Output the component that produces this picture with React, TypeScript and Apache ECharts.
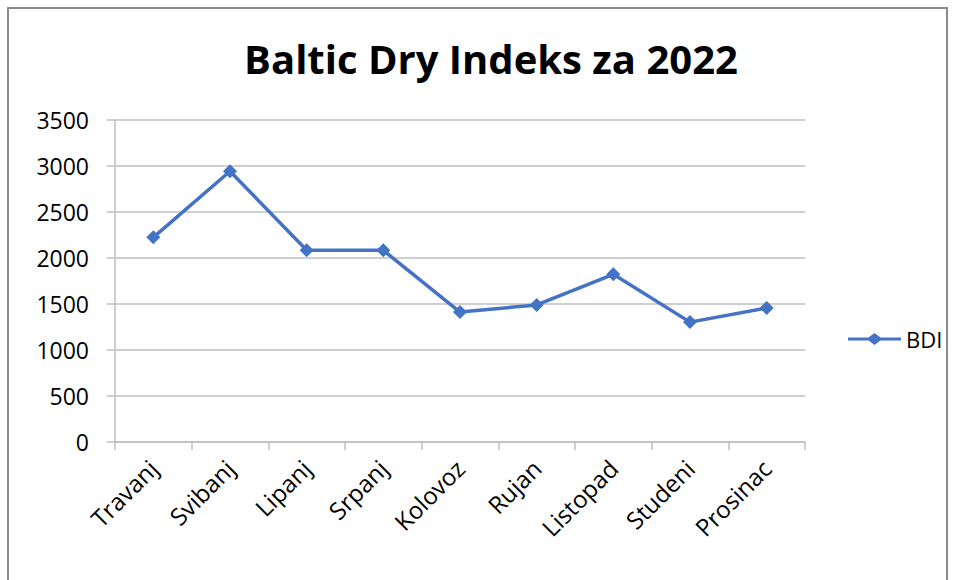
import React, { useEffect, useRef } from "react";
import * as echarts from "echarts";

const categories = ["Travanj", "Svibanj", "Lipanj", "Srpanj", "Kolovoz", "Rujan", "Listopad", "Studeni", "Prosinac"];
const bdiValues = [2225, 2943, 2085, 2083, 1412, 1490, 1823, 1303, 1457];
const seriesName = "BDI";
const titleText = "Baltic Dry Indeks za 2022";

const legendIcon =
  "path://M0,4.5 L20.5,4.5 L26.5,0 L32.5,4.5 L53,4.5 L53,7.5 L32.5,7.5 L26.5,12 L20.5,7.5 L0,7.5 Z";

export default function App() {
  const ref = useRef<HTMLDivElement>(null);
  useEffect(() => {
    if (!ref.current) return;
    const chart = echarts.init(ref.current, null, { renderer: "svg" });
    const font = "'Open Sans', 'Noto Sans', sans-serif";
    chart.setOption({
      animation: false,
      backgroundColor: "#ffffff",
      title: {
        text: titleText,
        left: 486,
        textAlign: "center",
        top: 33,
        textStyle: { fontFamily: font, fontWeight: "bold", fontSize: 40, color: "#000" },
      },
      graphic: [
        {
          type: "rect",
          shape: { x: 8, y: 8, width: 939, height: 620 },
          style: { fill: "none", stroke: "#8c8c8c", lineWidth: 2 },
          silent: true,
        },
      ],
      legend: {
        orient: "vertical",
        left: 843,
        top: 323,
        itemWidth: 53,
        itemHeight: 12,
        itemGap: 4,
        data: [{ name: seriesName, icon: legendIcon }],
        textStyle: { fontFamily: font, fontSize: 22, color: "#000" },
      },
      grid: { left: 115, right: 150, top: 120, bottom: 138 },
      xAxis: {
        type: "category",
        data: categories,
        boundaryGap: true,
        axisLine: { show: true, lineStyle: { color: "#bfbfbf", width: 1.5 } },
        axisTick: { show: true, length: 8, alignWithLabel: false, lineStyle: { color: "#bfbfbf", width: 1.5 } },
        axisLabel: { rotate: 45, fontFamily: font, fontSize: 24, color: "#000", margin: 22, interval: 0 },
      },
      yAxis: {
        type: "value",
        min: 0,
        max: 3500,
        interval: 500,
        axisLine: { show: true, lineStyle: { color: "#bfbfbf", width: 1.5 } },
        axisTick: { show: true, length: 8, lineStyle: { color: "#bfbfbf", width: 1.5 } },
        splitLine: { show: true, lineStyle: { color: "#bfbfbf", width: 1.5 } },
        axisLabel: {
          fontFamily: font,
          fontSize: 23,
          color: "#000",
          margin: 26,
          formatter: (v: number) => String(v),
        },
      },
      series: [
        {
          name: seriesName,
          type: "line",
          data: bdiValues,
          symbol: "diamond",
          symbolSize: 14,
          itemStyle: { color: "#4472C4" },
          lineStyle: { color: "#4472C4", width: 3.5 },
        },
      ],
    });
    return () => chart.dispose();
  }, []);
  return <div ref={ref} style={{ position: "absolute", left: 0, top: 0, width: 955, height: 580 }} />;
}
